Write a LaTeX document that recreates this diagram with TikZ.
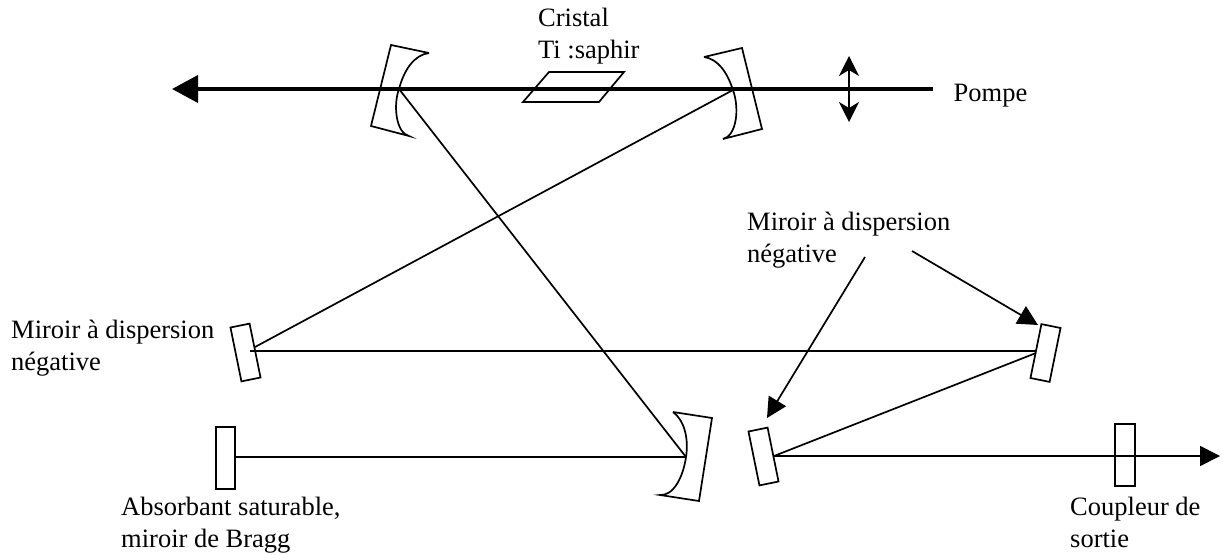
\documentclass[tikz,border=0pt]{standalone}
\usepackage{fontspec}
\setmainfont{Liberation Serif}
\usetikzlibrary{arrows.meta}
\tikzset{
  optic/.style={draw=black,line width=1.7pt,line join=miter,fill=none},
  flatmirror/.style={draw=black,line width=1.7pt,rectangle,inner sep=0pt,minimum width=19.5pt,minimum height=55pt},
  upright/.style={draw=black,line width=1.7pt,rectangle,inner sep=0pt,minimum width=19.5pt,minimum height=62pt},
  beam/.style={draw=black,line width=1.7pt},
  pump/.style={draw=black,line width=3.8pt,-{Triangle[length=26pt,width=27pt]}},
  lens/.style={draw=black,line width=1.7pt,{Stealth[length=20pt,width=20pt,inset=6pt]}-{Stealth[length=20pt,width=20pt,inset=6pt]}},
  pointer/.style={draw=black,line width=1.7pt,-{Triangle[length=20pt,width=20pt]}},
  outbeam/.style={draw=black,line width=1.7pt,-{Triangle[length=20pt,width=20pt]}},
  lab/.style={anchor=north west,inner sep=0pt,align=left,font=\fontsize{26.5}{32}\selectfont}
}
\begin{document}
\begin{tikzpicture}[x=1pt,y=-1pt]
\useasboundingbox (0,0) rectangle (1223,554);
% beam points
\coordinate (pumpR) at (933,89);
\coordinate (pumpL) at (172,89);
\coordinate (vL) at (399,89);
\coordinate (vR) at (733,90);
\coordinate (vB) at (686,457);
\coordinate (hitA) at (255,347);
\coordinate (hitAh) at (250,351.3);
\coordinate (hitB) at (1036,351.3);
\coordinate (hitBo) at (1036,353);
\coordinate (hitC) at (774,456);
\coordinate (outEnd) at (1220,456);
\coordinate (lensT) at (849,56);
\coordinate (lensB) at (849,122);
\coordinate (ptrA) at (865,257);
\coordinate (ptrAend) at (767,418);
\coordinate (ptrB) at (912,251);
\coordinate (ptrBend) at (1038,325);
% curved mirrors
\draw[optic] (429,53) -- (391,45) -- (371,126) -- (409,136)
  .. controls (396,133) and (393,105) .. (399,89) .. controls (404,70) and (414,55) .. (429,53);
\draw[optic] (704,57) -- (742,48) -- (762,129) -- (723,139)
  .. controls (736,136) and (740,110) .. (733,90) .. controls (727,72) and (718,59) .. (704,57);
\draw[optic] (673,412) -- (712,418) -- (699,501) -- (660,495)
  .. controls (673,496) and (683,478) .. (686,457) .. controls (689,438) and (684,420) .. (673,412);
% crystal
\draw[optic] (549,72) -- (624,72) -- (599,102) -- (523,102) -- cycle;
% flat mirrors
\node[flatmirror,rotate=11.5] (m1) at (245.5,352.5) {};
\node[flatmirror,rotate=-11.5] (m2) at (1045.5,353) {};
\node[flatmirror,rotate=11.5] (m3) at (763.5,456.5) {};
\node[upright] (bragg) at (225.5,458) {};
\node[upright] (coupler) at (1125,455) {};
% beams
\draw[pump] (pumpR) -- (pumpL);
\draw[lens] (lensT) -- (lensB);
\draw[beam] (vL) -- (vB);
\draw[beam] (vR) -- (hitA);
\draw[beam] (hitAh) -- (hitB);
\draw[beam] (hitBo) -- (hitC);
\draw[beam] (bragg.east |- vB) -- (vB);
\draw[outbeam] (hitC) -- (outEnd);
\draw[pointer] (ptrA) -- (ptrAend);
\draw[pointer] (ptrB) -- (ptrBend);
% labels
\node[lab] (t1) at (538,8) {Cristal\\Ti :saphir};
\node[lab] (t2) at (953.5,84) {Pompe};
\node[lab] (t3) at (747,212) {Miroir à dispersion\\négative};
\node[lab] (t4) at (11,320) {Miroir à dispersion\\négative};
\node[lab] (t5) at (121,496.5) {Absorbant saturable,\\miroir de Bragg};
\node[lab] (t6) at (1070,496.5) {Coupleur de\\sortie};
\end{tikzpicture}
\end{document}
